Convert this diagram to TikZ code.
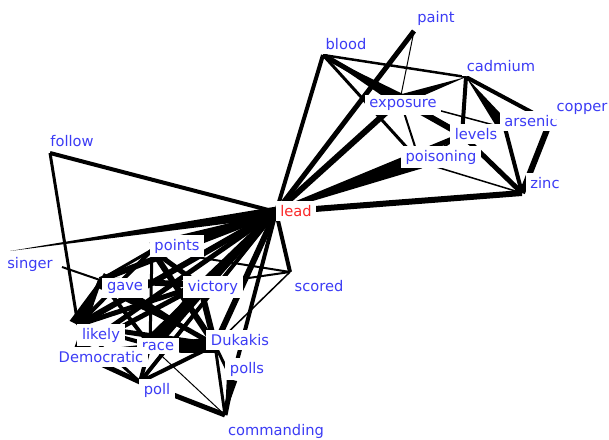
\documentclass[tikz,border=0pt]{standalone}
\usepackage{fontspec}
\setmainfont{DejaVu Sans}
\usetikzlibrary{calc}
\definecolor{lblue}{RGB}{60,60,245}
\definecolor{lred}{RGB}{250,40,40}
\newcommand\wdg[3]{\fill (#1) -- ($(#2)!#3!90:(#1)$) -- ($(#2)!#3!-90:(#1)$) -- cycle;}
\tikzset{
  lbl/.style={fill=white, text=lblue, font=\fontsize{11}{12}\selectfont, inner xsep=3.5pt, inner ysep=3pt},
  lbllead/.style={lbl, text=lred},
}
\begin{document}
\begin{tikzpicture}[x=0.75pt,y=-0.75pt]
\useasboundingbox (0,0) rectangle (609,439);
\fill[white] (0,0) rectangle (609,439);
% hubs
\coordinate (lead) at (276,212);
\coordinate (follow) at (50,153);
\coordinate (blood) at (323,55);
\coordinate (paint) at (414,31);
\coordinate (cadmium) at (466,77);
\coordinate (copper) at (550,122);
\coordinate (arsenic) at (505,128);
\coordinate (exposure) at (400,100);
\coordinate (levels) at (462,135);
\coordinate (poisoning) at (420,162);
\coordinate (zinc) at (522,193);
\coordinate (singer) at (62,267);
\coordinate (singerL) at (10,251);
\coordinate (points) at (152,250);
\coordinate (gave) at (100,280);
\coordinate (victory) at (200,285);
\coordinate (scored) at (290,272);
\coordinate (likely) at (78,325);
\coordinate (race) at (150,345);
\coordinate (Dukakis) at (215,345);
\coordinate (Democratic) at (75,352);
\coordinate (polls) at (232,380);
\coordinate (poll) at (140,382);
\coordinate (commanding) at (225,415);
% plain edges
\foreach \a/\b/\w in {
  lead/follow/4, follow/likely/3, singer/gave/2, gave/points/3, gave/likely/3,
  lead/blood/4, lead/paint/5, lead/exposure/6, lead/levels/5, lead/zinc/6,
  blood/cadmium/2.5, blood/poisoning/3, blood/levels/5, paint/exposure/1,
  cadmium/levels/4, cadmium/copper/4, exposure/arsenic/1.5, exposure/levels/6,
  exposure/poisoning/2, levels/zinc/5, arsenic/zinc/4, arsenic/levels/4,
  copper/zinc/6, poisoning/zinc/1.5, levels/poisoning/2,
  lead/points/6, lead/gave/6, lead/victory/6, lead/scored/4, lead/likely/6,
  lead/race/6, lead/Dukakis/6, lead/Democratic/5, lead/polls/4, lead/poll/4,
  scored/victory/2, scored/Dukakis/1.5, scored/points/2, points/victory/5,
  points/race/3, points/Dukakis/6, gave/victory/6, gave/race/4, gave/Dukakis/5,
  victory/race/6, victory/Dukakis/6, victory/likely/5, victory/Democratic/5,
  likely/race/4, likely/Dukakis/5, race/Dukakis/7, Democratic/poll/5,
  Democratic/Dukakis/5, race/poll/4, poll/Dukakis/4, Dukakis/polls/3,
  points/likely/4, gave/Democratic/4, likely/poll/3,
  commanding/Dukakis/3, commanding/polls/5, commanding/race/1, commanding/poll/5}
  \draw[line width=\w*0.75pt] (\a) -- (\b);
% tapered edges
\wdg{singerL}{lead}{4pt}
\wdg{lead}{poisoning}{5pt}
\wdg{blood}{exposure}{5pt}
\wdg{cadmium}{exposure}{4pt}
\wdg{cadmium}{arsenic}{5pt}
\wdg{gave}{likely}{7pt}
\wdg{commanding}{polls}{4pt}
\wdg{lead}{points}{6pt}
\wdg{lead}{race}{6pt}
\wdg{Democratic}{Dukakis}{6pt}
\wdg{Dukakis}{gave}{6pt}
% labels
\node[lbllead] (tlead) at (296,211) {lead};
\node[lbl] (tfollow) at (72,141) {follow};
\node[lbl] (tblood) at (346,44) {blood};
\node[lbl] (tpaint) at (436,18) {paint};
\node[lbl] (tcadmium) at (501,66) {cadmium};
\node[lbl] (tarsenic) at (531,121) {arsenic};
\node[lbl] (tcopper) at (582,109) {copper};
\node[lbl] (texposure) at (403,105) {exposure};
\node[lbl] (tlevels) at (476,134) {levels};
\node[lbl] (tpoisoning) at (441,157) {poisoning};
\node[lbl] (tzinc) at (545,183) {zinc};
\node[lbl] (tsinger) at (30,264) {singer};
\node[lbl] (tpoints) at (177,246) {points};
\node[lbl] (tgave) at (125,288) {gave};
\node[lbl] (tvictory) at (213,287) {victory};
\node[lbl] (tscored) at (319,286) {scored};
\node[lbl] (tlikely) at (101,335) {likely};
\node[lbl] (trace) at (158,346) {race};
\node[lbl] (tDukakis) at (240,340) {Dukakis};
\node[lbl] (tDemocratic) at (101,357) {Democratic};
\node[lbl] (tpolls) at (247,369) {polls};
\node[lbl] (tpoll) at (157,390) {poll};
\node[lbl] (tcommanding) at (276,431) {commanding};
\end{tikzpicture}
\end{document}
